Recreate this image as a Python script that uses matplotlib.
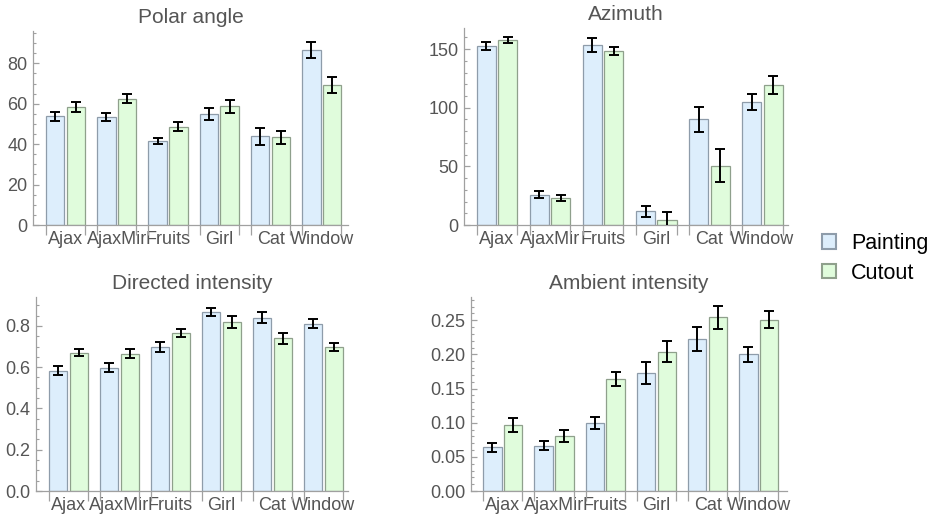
import matplotlib
matplotlib.use("Agg")
import matplotlib.pyplot as plt
from matplotlib.patches import Patch
from matplotlib.ticker import MultipleLocator, FormatStrFormatter
import numpy as np

plt.rcParams['font.family'] = ['Liberation Sans', 'DejaVu Sans']

categories = ["Ajax", "AjaxMir", "Fruits", "Girl", "Cat", "Window"]
series_names = ["Painting", "Cutout"]

polar_p = [53.8, 53.3, 41.6, 55.1, 43.8, 86.7]
polar_p_err = [2.1, 2.0, 1.4, 2.9, 4.2, 4.1]
polar_c = [58.4, 62.5, 48.7, 58.7, 43.3, 69.2]
polar_c_err = [2.3, 2.2, 2.4, 3.4, 3.0, 3.9]

az_p = [152.6, 25.9, 153.4, 11.9, 90.3, 104.8]
az_p_err = [3.3, 3.3, 6.1, 4.7, 10.7, 6.8]
az_c = [157.7, 23.0, 148.3, 4.3, 50.6, 119.3]
az_c_err = [2.8, 2.4, 3.7, 6.4, 14.0, 7.7]

dir_p = [0.583, 0.598, 0.698, 0.868, 0.840, 0.811]
dir_p_err = [0.023, 0.021, 0.025, 0.021, 0.026, 0.020]
dir_c = [0.671, 0.666, 0.766, 0.819, 0.740, 0.698]
dir_c_err = [0.019, 0.021, 0.020, 0.027, 0.027, 0.021]

amb_p = [0.0641, 0.0665, 0.0998, 0.1727, 0.2226, 0.200]
amb_p_err = [0.0066, 0.0068, 0.0086, 0.0166, 0.0174, 0.011]
amb_c = [0.0969, 0.0802, 0.164, 0.204, 0.254, 0.251]
amb_c_err = [0.010, 0.0086, 0.0105, 0.015, 0.0166, 0.012]

titles = ["Polar angle", "Azimuth", "Directed intensity", "Ambient intensity"]

fill_colors = ["#DDEEFC", "#E0FCDC"]
edge_colors = ["#8E9CAA", "#8FA08C"]
axis_color = "#A0A0A0"
text_color = "#555555"

fig = plt.figure(figsize=(9.35, 5.17), dpi=100)

W, H = 935.0, 517.0
panels = [
    dict(box=(33, 348, 225, 31), ytop=96, major=20, minor=5, fmt="%d",
         xlim=(-0.635, 5.51), data=(polar_p, polar_p_err, polar_c, polar_c_err)),
    dict(box=(464, 788, 225, 28), ytop=168, major=50, minor=10, fmt="%d",
         xlim=(-0.62, 5.48), data=(az_p, az_p_err, az_c, az_c_err)),
    dict(box=(36, 348, 491, 297), ytop=0.94, major=0.2, minor=0.05, fmt="%.1f",
         xlim=(-0.636, 5.48), data=(dir_p, dir_p_err, dir_c, dir_c_err)),
    dict(box=(471, 787, 491, 297), ytop=0.284, major=0.05, minor=0.01, fmt="%.2f",
         xlim=(-0.62, 5.55), data=(amb_p, amb_p_err, amb_c, amb_c_err)),
]

bar_w = 0.36
offset = 0.2025
x = np.arange(len(categories))

for p, title in zip(panels, titles):
    l, r, b, t = p["box"]
    ax = fig.add_axes([l / W, (H - b) / H, (r - l) / W, (b - t) / H])
    vp, ep, vc, ec = p["data"]
    ax.bar(x - offset, vp, width=bar_w, color=fill_colors[0],
           edgecolor=edge_colors[0], linewidth=0.9, zorder=2)
    ax.bar(x + offset, vc, width=bar_w, color=fill_colors[1],
           edgecolor=edge_colors[1], linewidth=0.9, zorder=2)
    ax.errorbar(x - offset, vp, yerr=ep, fmt='none', ecolor='black',
                elinewidth=1.4, capsize=3.8, capthick=1.4, zorder=3)
    ax.errorbar(x + offset, vc, yerr=ec, fmt='none', ecolor='black',
                elinewidth=1.4, capsize=3.8, capthick=1.4, zorder=3)
    ax.set_xlim(*p["xlim"])
    ax.set_ylim(0, p["ytop"])
    for s in ["top", "right"]:
        ax.spines[s].set_visible(False)
    for s in ["left", "bottom"]:
        ax.spines[s].set_color(axis_color)
        ax.spines[s].set_linewidth(0.9)
    ax.set_xticks(x)
    ax.set_xticklabels(categories)
    edges = np.concatenate([x - offset - bar_w / 2, x + offset + bar_w / 2])
    ax.set_xticks(np.sort(edges), minor=True)
    ax.tick_params(axis='x', which='major', length=0, pad=4,
                   labelsize=13, labelcolor=text_color)
    ax.tick_params(axis='x', which='minor', direction='out', length=7,
                   width=0.9, color=axis_color)
    ax.yaxis.set_major_locator(MultipleLocator(p["major"]))
    ax.yaxis.set_minor_locator(MultipleLocator(p["minor"]))
    ax.yaxis.set_major_formatter(FormatStrFormatter(p["fmt"]))
    ax.tick_params(axis='y', which='major', direction='in', length=4, width=0.9,
                   color=axis_color, pad=4, labelsize=13, labelcolor=text_color)
    ax.tick_params(axis='y', which='minor', direction='in', length=2, width=0.8,
                   color=axis_color)
    ax.set_title(title, fontsize=15, color=text_color, pad=6)
    ax.patch.set_alpha(0)

handles = [Patch(facecolor=fill_colors[i], edgecolor=edge_colors[i], linewidth=1.5)
           for i in range(2)]
fig.legend(handles, series_names, loc='center left', bbox_to_anchor=(0.879, 0.5),
           frameon=False, fontsize=15.5, handlelength=0.65, handleheight=0.65,
           handletextpad=0.7, labelspacing=0.4, borderpad=0, borderaxespad=0)

fig.savefig("out.png", dpi=100)
